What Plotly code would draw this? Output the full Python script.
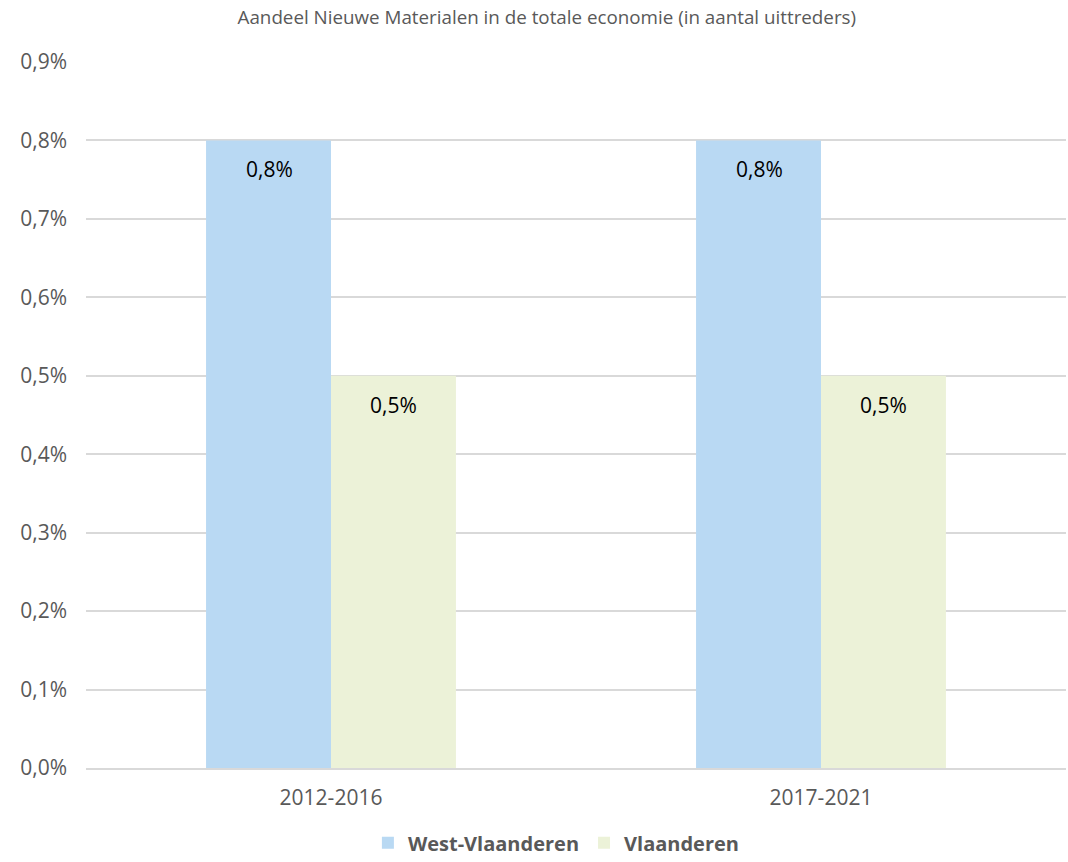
import plotly.graph_objects as go

categories = ["2012-2016", "2017-2021"]
west_vlaanderen = [0.008, 0.008]
vlaanderen = [0.005, 0.005]
series_names = ["West-Vlaanderen", "Vlaanderen"]
title_text = "Aandeel Nieuwe Materialen in de totale economie (in aantal uittreders)"
y_ticks = [0.0, 0.001, 0.002, 0.003, 0.004, 0.005, 0.006, 0.007, 0.008, 0.009]

FONT = "Open Sans"
GRAY = "#595959"
colors = ["#B9D9F3", "#ECF2D8"]

fig = go.Figure()
for name, vals, col in zip(series_names, [west_vlaanderen, vlaanderen], colors):
    fig.add_trace(go.Bar(
        x=categories, y=vals, name=name,
        marker=dict(color=col, line=dict(width=0)),
    ))

# data labels placed inside near top of bars
for i, vals in enumerate([west_vlaanderen, vlaanderen]):
    shift = -62 if i == 0 else 62
    for c, v in zip(categories, vals):
        fig.add_annotation(
            x=c, y=v, xref="x", yref="y",
            text=f"{v*100:.1f}%".replace(".", ","),
            showarrow=False, xshift=shift, yshift=-29,
            font=dict(family=FONT, size=21, color="#000000"),
        )

fig.update_layout(
    width=1068, height=862,
    paper_bgcolor="white", plot_bgcolor="white",
    margin=dict(l=86, r=2, t=62, b=94, autoexpand=False),
    barmode="group", bargap=0.49, bargroupgap=0,
    separators=",.",
    title=dict(text=title_text, x=0.512, xanchor="center", y=0.98, yanchor="middle",
               font=dict(family=FONT, size=18.8, color=GRAY)),
    font=dict(family=FONT, color=GRAY),
    showlegend=True,
    legend=dict(orientation="h", x=0.48, xanchor="center", y=-0.106, yanchor="middle",
                font=dict(family=FONT, size=20, color=GRAY, weight="bold"),
                itemwidth=30, tracegroupgap=0),
    xaxis=dict(showgrid=False, showline=True, linecolor="#D9D9D9", linewidth=1.5,
               ticks="", tickfont=dict(family=FONT, size=21, color=GRAY),
               ticklabelstandoff=10),
    yaxis=dict(range=[0, 0.009], tickvals=y_ticks, tickformat=".1%",
               showgrid=True, gridcolor="#D9D9D9", gridwidth=1.5,
               zeroline=False, showline=False, ticks="",
               tickfont=dict(family=FONT, size=21, color=GRAY),
               ticklabelstandoff=18),
)

fig.write_html("out.html", config={"displayModeBar": False},
               post_script="document.body.style.margin='0';document.body.style.overflow='hidden';")
